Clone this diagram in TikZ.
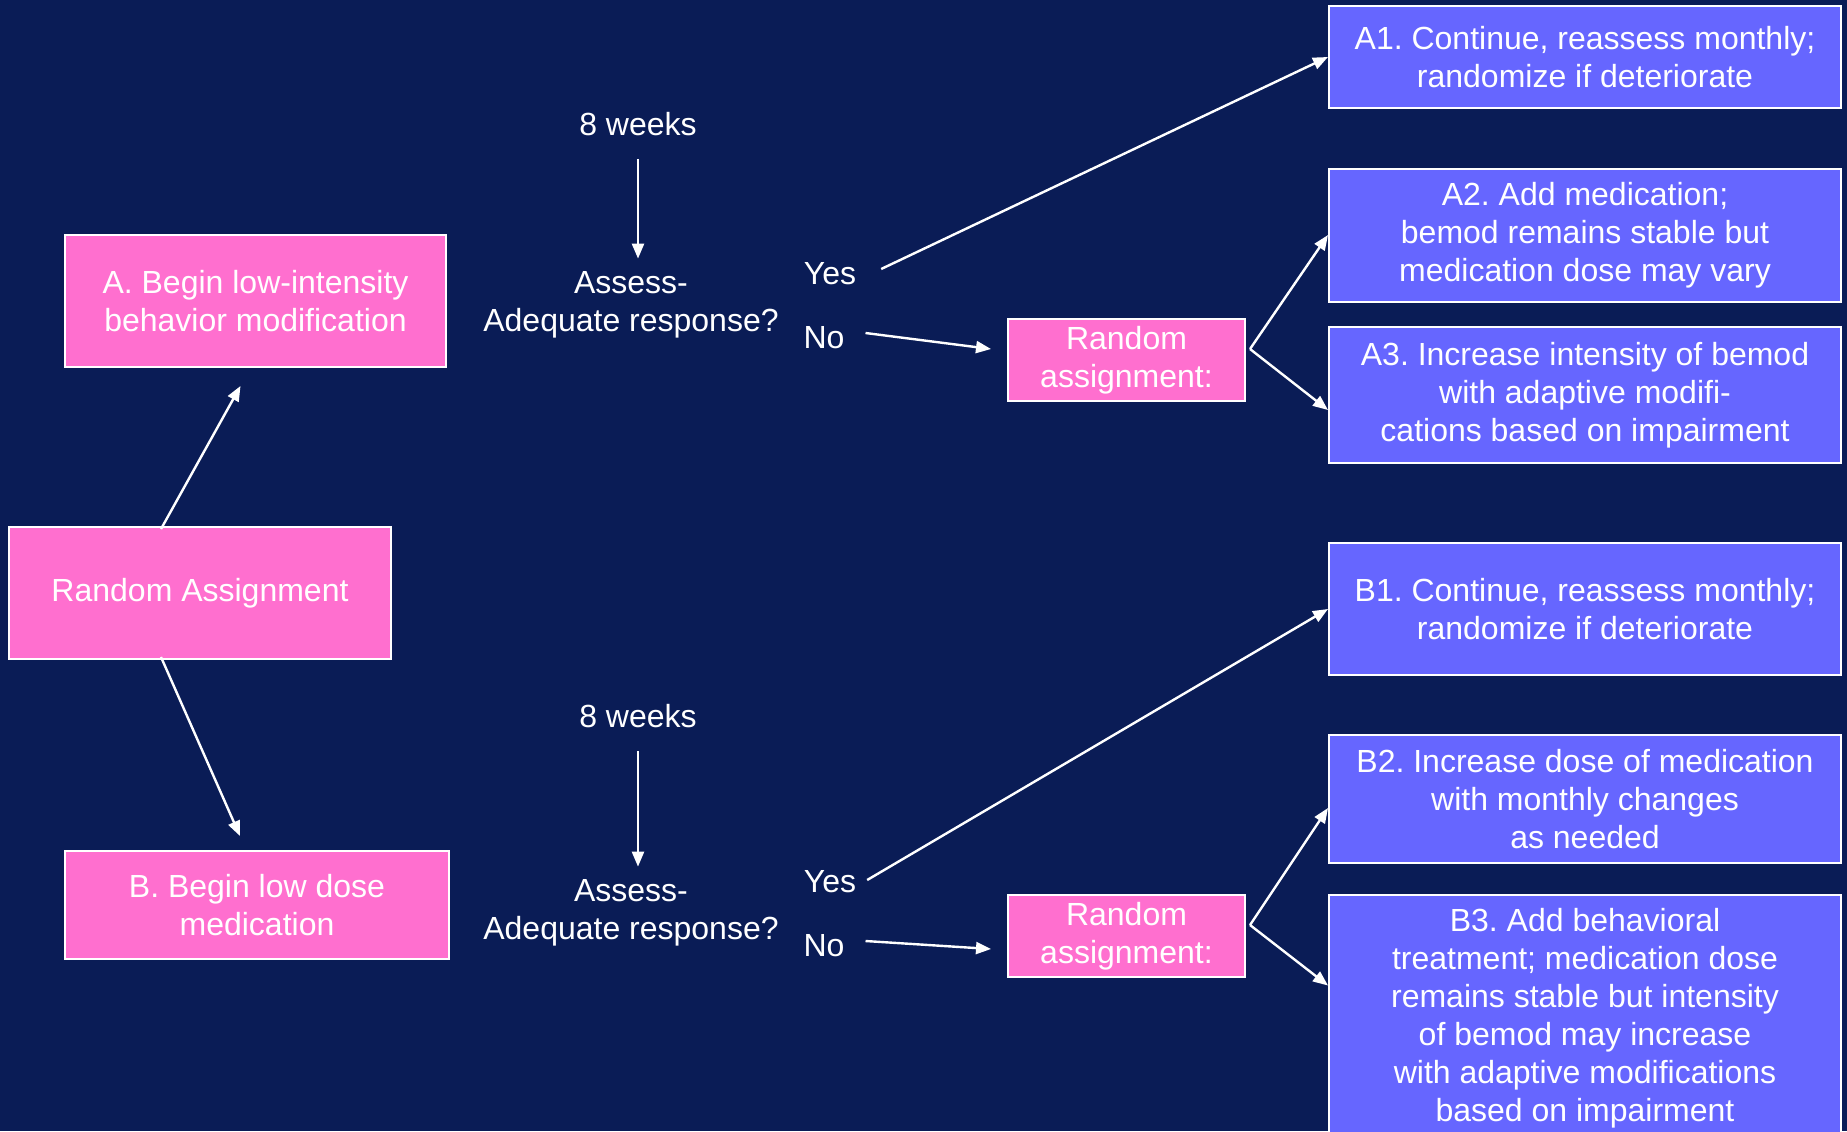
\documentclass[tikz,border=0pt]{standalone}
\usepackage{fontspec}
\setmainfont{Liberation Sans}
\usetikzlibrary{arrows.meta, positioning, calc}
\frenchspacing
\definecolor{bgnavy}{HTML}{0A1C56}
\definecolor{boxpink}{HTML}{FF6FCF}
\definecolor{boxblue}{HTML}{6666FF}
\newcommand{\pinkbox}[5]{%
  \node[draw=white, line width=1pt, fill=boxpink, minimum width=#4,
        minimum height=#5, align=center, text=white] (#1) at (#2) {#3};}
\newcommand{\bluebox}[4]{%
  \node[draw=white, line width=1pt, fill=boxblue, minimum width=256pt,
        minimum height=#3, align=center, text=white] (#1) at (#2) {#4};}
\tikzset{
  plain/.style={text=white, align=center},
  link/.style={draw=white, line width=1.2pt, -{Triangle[length=7.5pt, width=6pt]}},
  yesline/.style={draw=white, line width=1.2pt}
}

\begin{document}
\begin{tikzpicture}[x=0.5pt, y=-0.5pt, font=\fontsize{16}{19}\selectfont]
      \fill[bgnavy] (0,0) rectangle (1847,1131);
      \useasboundingbox (0,0) rectangle (1847,1131);
      \clip (0,0) rectangle (1847,1131);
      % left column
      \pinkbox{ra}{200,593}{Random Assignment}{191pt}{66pt}
      \pinkbox{armA}{255.5,301}{A. Begin low-intensity\\behavior modification}{190.5pt}{66pt}
      \pinkbox{armB}{257,905}{B. Begin low dose\\medication}{192pt}{54pt}
      \draw[link] ($(ra.north)+(-39,3)$) -- ($(armA.south)+(-15,18)$);
      \draw[link] ($(ra.south)+(-39,-3)$) -- ($(armB.north)+(-17,-14)$);
      % upper assessment
      \node[plain] (wkA) at (638,124) {8 weeks};
      \node[plain] (asA) at (631,305) {Assess-\\Adequate response?};
      \node[plain] (yesA) at (830,274) {Yes};
      \node[plain] (noA) at (824,338) {No};
      \draw[link] ($(wkA.south)+(0,16)$) -- ($(asA.north)+(7,-6)$);
      \pinkbox{rsA}{1126.5,360}{Random\\assignment:}{118.5pt}{39pt}
      \bluebox{a1}{1585,57}{51pt}{A1. Continue, reassess monthly;\\randomize if deteriorate}
      \bluebox{a2}{1585,235}{66.5pt}{A2. Add medication;\\bemod remains stable but\\medication dose may vary}
      \bluebox{a3}{1585,395}{68pt}{A3. Increase intensity of bemod\\with adaptive modifi-\\cations based on impairment}
      \draw[link] ($(yesA.east)+(18,-5)$) -- (a1.west);
      \draw[link] ($(noA.east)+(14,-5)$) -- ($(rsA.west)+(-16,-11)$);
      \draw[link] ($(rsA.east)+(4,-11)$) -- (a2.west);
      \draw[link] ($(rsA.east)+(4,-11)$) -- ($(a3.west)+(0,15)$);
      % lower assessment
      \node[plain] (wkB) at (638,716) {8 weeks};
      \node[plain] (asB) at (631,913) {Assess-\\Adequate response?};
      \node[plain] (yesB) at (830,882) {Yes};
      \node[plain] (noB) at (824,946) {No};
      \draw[link] ($(wkB.south)+(0,16)$) -- ($(asB.north)+(7,-6)$);
      \pinkbox{rsB}{1126.5,936}{Random\\assignment:}{118.5pt}{39pt}
      \bluebox{b1}{1585,609}{66pt}{B1. Continue, reassess monthly;\\randomize if deteriorate}
      \bluebox{b2}{1585,799}{64pt}{B2. Increase dose of medication\\with monthly changes\\as needed}
      \bluebox{b3}{1585,1018}{123.5pt}{B3. Add behavioral\\treatment; medication dose\\remains stable but intensity\\of bemod may increase\\with adaptive modifications\\based on impairment}
      \draw[link] ($(yesB.east)+(4,-2)$) -- (b1.west);
      \draw[link] ($(noB.east)+(14,-5)$) -- ($(rsB.west)+(-16,13)$);
      \draw[link] ($(rsB.east)+(4,-11)$) -- ($(b2.west)+(0,9)$);
      \draw[link] ($(rsB.east)+(4,-11)$) -- ($(b3.north west)+(0,92)$);
    \end{tikzpicture}
\end{document}
